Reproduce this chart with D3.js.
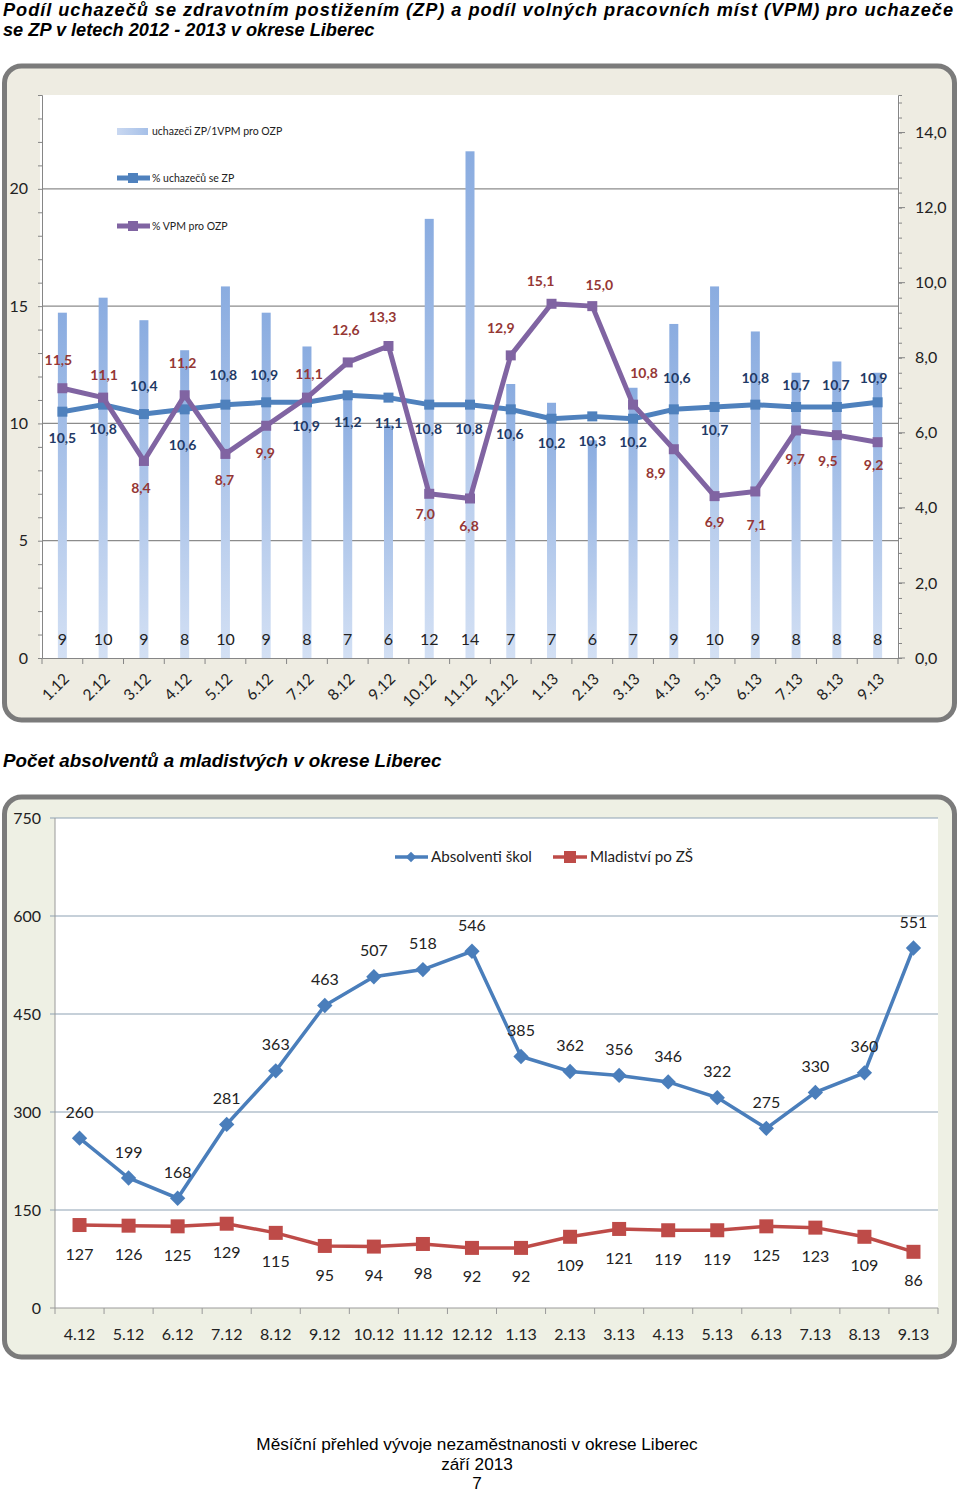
<!DOCTYPE html>
<html>
<head>
<meta charset="utf-8">
<script src="https://cdn.jsdelivr.net/npm/d3@7"></script>
<style>
  html, body { margin: 0; padding: 0; background: #ffffff; }
  svg { display: block; }
</style>
</head>
<body>
<svg id="chart" width="960" height="1493"></svg>
<script>
// ---------- DATA: chart 1 ----------
const months1 = ["1.12","2.12","3.12","4.12","5.12","6.12","7.12","8.12","9.12","10.12","11.12","12.12",
                 "1.13","2.13","3.13","4.13","5.13","6.13","7.13","8.13","9.13"];
// uchazeči ZP / 1 VPM pro OZP (bars, right axis; labels shown rounded)
const barValues = [9.2, 9.6, 9.0, 8.2, 9.9, 9.2, 8.3, 7.0, 6.2, 11.7, 13.5, 7.3,
                   6.8, 5.8, 7.2, 8.9, 9.9, 8.7, 7.6, 7.9, 7.6];
// % uchazečů se ZP (left axis)
const pctZP = [10.5, 10.8, 10.4, 10.6, 10.8, 10.9, 10.9, 11.2, 11.1, 10.8, 10.8, 10.6,
               10.2, 10.3, 10.2, 10.6, 10.7, 10.8, 10.7, 10.7, 10.9];
// % VPM pro OZP (left axis)
const pctVPM = [11.5, 11.1, 8.4, 11.2, 8.7, 9.9, 11.1, 12.6, 13.3, 7.0, 6.8, 12.9,
                15.1, 15.0, 10.8, 8.9, 6.9, 7.1, 9.7, 9.5, 9.2];
const leftTicks1 = [0, 5, 10, 15, 20];
const rightTicks1 = [0, 2, 4, 6, 8, 10, 12, 14];
const seriesNames1 = ["uchazeči ZP/1VPM pro OZP", "% uchazečů se ZP", "% VPM pro OZP"];

// ---------- DATA: chart 2 ----------
const months2 = ["4.12","5.12","6.12","7.12","8.12","9.12","10.12","11.12","12.12",
                 "1.13","2.13","3.13","4.13","5.13","6.13","7.13","8.13","9.13"];
const absolventi = [260, 199, 168, 281, 363, 463, 507, 518, 546, 385, 362, 356, 346, 322, 275, 330, 360, 551];
const mladistvi = [127, 126, 125, 129, 115, 95, 94, 98, 92, 92, 109, 121, 119, 119, 125, 123, 109, 86];
const yTicks2 = [0, 150, 300, 450, 600, 750];
const seriesNames2 = ["Absolventi škol", "Mladiství po ZŠ"];

// ---------- texts ----------
const title1a = "Podíl uchazečů se zdravotním postižením (ZP) a podíl volných pracovních míst (VPM) pro uchazeče";
const title1b = "se ZP v letech 2012 - 2013 v okrese Liberec";
const title2 = "Počet absolventů a mladistvých v okrese Liberec";
const footer = ["Měsíční přehled vývoje nezaměstnanosti v okrese Liberec", "září 2013", "7"];

// ---------- drawing ----------
const svg = d3.select("#chart");
const FONT = "Lato, 'Open Sans', sans-serif";
const fmt1 = v => d3.format(".1f")(v).replace(".", ",");

const defs = svg.append("defs");
const g1 = defs.append("linearGradient").attr("id", "barGrad").attr("x1", 0).attr("y1", 0).attr("x2", 0).attr("y2", 1);
g1.append("stop").attr("offset", "0%").attr("stop-color", "#8AACE0");
g1.append("stop").attr("offset", "100%").attr("stop-color", "#D3E0F4");
const g2 = defs.append("linearGradient").attr("id", "legGrad").attr("x1", 0).attr("y1", 0).attr("x2", 1).attr("y2", 0);
g2.append("stop").attr("offset", "0%").attr("stop-color", "#C9D8F1");
g2.append("stop").attr("offset", "100%").attr("stop-color", "#A6C0E8");

// Titles
const TF = "'Liberation Sans', Arial, sans-serif";
svg.append("text").attr("x", 3).attr("y", 16).attr("textLength", 950).attr("lengthAdjust", "spacing")
  .attr("font-family", TF).attr("font-size", 18.2)
  .attr("font-weight", "bold").attr("font-style", "italic").attr("fill", "#000").text(title1a);
svg.append("text").attr("x", 3).attr("y", 36)
  .attr("font-family", TF).attr("font-size", 18.2)
  .attr("font-weight", "bold").attr("font-style", "italic").attr("fill", "#000").text(title1b);

// ================= CHART 1 =================
svg.append("rect").attr("x", 4.5).attr("y", 66).attr("width", 950).attr("height", 654).attr("rx", 17)
  .attr("fill", "#EEECE2").attr("stroke", "#7B7B7B").attr("stroke-width", 5);

const c1 = { left: 42, right: 898, top: 95, bottom: 658 };
svg.append("rect").attr("x", 40).attr("y", c1.top).attr("width", 860).attr("height", c1.bottom - c1.top).attr("fill", "#fff");

const x1 = d3.scaleBand().domain(months1).range([c1.left, c1.right]);
const yL = d3.scaleLinear().domain([0, 24]).range([c1.bottom, c1.top]);
const yR = d3.scaleLinear().domain([0, 15]).range([c1.bottom, c1.top]);
const cx1 = d => x1(d) + x1.bandwidth() / 2;

// gridlines
svg.append("g").selectAll("line").data(leftTicks1.filter(d => d > 0)).join("line")
  .attr("x1", c1.left).attr("x2", c1.right).attr("y1", d => yL(d)).attr("y2", d => yL(d))
  .attr("stroke", "#8C8C8C").attr("stroke-width", 1.2);

// left axis
const axL = svg.append("g").attr("transform", `translate(${c1.left},0)`)
  .call(d3.axisLeft(yL).tickValues(d3.range(0, 25, 1)).tickSize(4).tickFormat(""));
axL.selectAll("path,line").attr("stroke", "#868686");
svg.append("g").selectAll("text").data(leftTicks1).join("text")
  .attr("x", 28).attr("y", d => yL(d)).attr("dy", "0.35em").attr("text-anchor", "end")
  .attr("font-family", FONT).attr("font-size", 16).attr("fill", "#222").text(d => d);

// right axis
const axR = svg.append("g").attr("transform", `translate(${c1.right},0)`)
  .call(d3.axisRight(yR).tickValues(d3.range(0, 15.01, 0.4)).tickSize(4).tickFormat(""));
axR.selectAll("path,line").attr("stroke", "#868686");
svg.append("g").selectAll("line").data(rightTicks1).join("line")
  .attr("x1", c1.right).attr("x2", c1.right + 7).attr("y1", d => yR(d)).attr("y2", d => yR(d)).attr("stroke", "#868686");
svg.append("g").selectAll("text").data(rightTicks1).join("text")
  .attr("x", 915).attr("y", d => yR(d)).attr("dy", "0.35em")
  .attr("font-family", FONT).attr("font-size", 16).attr("fill", "#222").text(d => fmt1(d));

// bars
const bw = 9;
svg.append("g").selectAll("rect").data(barValues).join("rect")
  .attr("x", (d, i) => cx1(months1[i]) - bw / 2).attr("y", d => yR(d))
  .attr("width", bw).attr("height", d => c1.bottom - yR(d)).attr("fill", "url(#barGrad)");

// x axis
const axX1 = svg.append("g").attr("transform", `translate(0,${c1.bottom})`)
  .call(d3.axisBottom(x1).tickSize(0).tickFormat(""));
axX1.selectAll("path").attr("stroke", "#868686");
svg.append("g").selectAll("line").data(d3.range(months1.length + 1)).join("line")
  .attr("x1", i => c1.left + i * x1.step()).attr("x2", i => c1.left + i * x1.step())
  .attr("y1", c1.bottom).attr("y2", c1.bottom + 6).attr("stroke", "#868686");
svg.append("g").selectAll("text").data(months1).join("text")
  .attr("transform", d => `translate(${cx1(d) + 4},${c1.bottom + 18}) rotate(-45)`)
  .attr("text-anchor", "end").attr("dy", "0.35em")
  .attr("font-family", FONT).attr("font-size", 15.5).attr("fill", "#222").text(d => d);

// bar labels
svg.append("g").selectAll("text").data(barValues).join("text")
  .attr("x", (d, i) => cx1(months1[i])).attr("y", 645).attr("text-anchor", "middle")
  .attr("font-family", FONT).attr("font-size", 16).attr("fill", "#222").text(d => Math.round(d));

// lines
const line1 = d3.line().x((d, i) => cx1(months1[i])).y(d => yL(d));
function drawSeries1(vals, color) {
  svg.append("path").datum(vals).attr("d", line1).attr("fill", "none")
    .attr("stroke", color).attr("stroke-width", 5).attr("stroke-linejoin", "round");
  svg.append("g").selectAll("rect").data(vals).join("rect")
    .attr("x", (d, i) => cx1(months1[i]) - 5).attr("y", d => yL(d) - 5)
    .attr("width", 10).attr("height", 10).attr("fill", color);
}
const BLUE1 = "#4F81BD", PURPLE1 = "#8064A2";
drawSeries1(pctZP, BLUE1);
drawSeries1(pctVPM, PURPLE1);

// data label placement (pixel offsets from marker)
const offZP = [[0,26],[0,24],[0,-28],[-2,36],[-2,-30],[-2,-27],[-1,24],[0,27],[0,25],[-1,24],[-1,24],[-1,25],
               [0,24],[0,25],[0,23],[3,-31],[0,23],[0,-27],[0,-22],[-1,-22],[-4,-24]];
const offVPM = [[-4,-28],[1,-23],[-3,27],[-2,-32],[-1,26],[-1,27],[2,-24],[-2,-32],[-6,-29],[-4,20],[-1,28],[-10,-27],
                [-11,-23],[7,-21],[11,-32],[-18,24],[0,26],[1,34],[-1,29],[-9,26],[-4,23]];
svg.append("g").selectAll("text").data(pctZP).join("text")
  .attr("x", (d, i) => cx1(months1[i]) + offZP[i][0]).attr("y", (d, i) => yL(d) + offZP[i][1])
  .attr("dy", "0.35em").attr("text-anchor", "middle")
  .attr("font-family", FONT).attr("font-size", 14).attr("font-weight", "bold").attr("fill", "#1F3A66")
  .text(d => fmt1(d));
svg.append("g").selectAll("text").data(pctVPM).join("text")
  .attr("x", (d, i) => cx1(months1[i]) + offVPM[i][0]).attr("y", (d, i) => yL(d) + offVPM[i][1])
  .attr("dy", "0.35em").attr("text-anchor", "middle")
  .attr("font-family", FONT).attr("font-size", 14).attr("font-weight", "bold").attr("fill", "#953735")
  .text(d => fmt1(d));

// legend chart 1
const leg1 = svg.append("g").attr("font-family", FONT).attr("font-size", 10.5).attr("fill", "#222");
leg1.append("rect").attr("x", 117).attr("y", 128).attr("width", 31).attr("height", 7).attr("fill", "url(#legGrad)");
leg1.append("text").attr("x", 152).attr("y", 131).attr("dy", "0.35em").text(seriesNames1[0]);
[[BLUE1, 178, seriesNames1[1]], [PURPLE1, 226, seriesNames1[2]]].forEach(([c, y, t]) => {
  leg1.append("line").attr("x1", 117).attr("x2", 150).attr("y1", y).attr("y2", y).attr("stroke", c).attr("stroke-width", 5);
  leg1.append("rect").attr("x", 128).attr("y", y - 5).attr("width", 10).attr("height", 10).attr("fill", c);
  leg1.append("text").attr("x", 152).attr("y", y).attr("dy", "0.35em").text(t);
});

// Title 2
svg.append("text").attr("x", 3).attr("y", 767)
  .attr("font-family", TF).attr("font-size", 18.8)
  .attr("font-weight", "bold").attr("font-style", "italic").attr("fill", "#000").text(title2);

// ================= CHART 2 =================
svg.append("rect").attr("x", 4.5).attr("y", 797).attr("width", 950).attr("height", 560).attr("rx", 17)
  .attr("fill", "#EEF0E4").attr("stroke", "#7B7B7B").attr("stroke-width", 5);
const c2 = { left: 55, right: 938, top: 818, bottom: 1308 };
svg.append("rect").attr("x", c2.left).attr("y", c2.top).attr("width", c2.right - c2.left).attr("height", c2.bottom - c2.top).attr("fill", "#fff");

const x2 = d3.scaleBand().domain(months2).range([c2.left, c2.right]);
const y2 = d3.scaleLinear().domain([0, 750]).range([c2.bottom, c2.top]);
const cx2 = d => x2(d) + x2.bandwidth() / 2;

svg.append("g").selectAll("line").data(yTicks2.filter(d => d > 0)).join("line")
  .attr("x1", c2.left - 5).attr("x2", c2.right).attr("y1", d => y2(d)).attr("y2", d => y2(d))
  .attr("stroke", "#8DA1B3").attr("stroke-width", 1.2);
svg.append("line").attr("x1", c2.left).attr("x2", c2.left).attr("y1", c2.top).attr("y2", c2.bottom).attr("stroke", "#9A9A9A");
svg.append("line").attr("x1", c2.left - 5).attr("x2", c2.right).attr("y1", c2.bottom).attr("y2", c2.bottom).attr("stroke", "#9A9A9A");
svg.append("g").selectAll("line").data(d3.range(months2.length + 1)).join("line")
  .attr("x1", i => c2.left + i * x2.step()).attr("x2", i => c2.left + i * x2.step())
  .attr("y1", c2.bottom).attr("y2", c2.bottom + 6).attr("stroke", "#9A9A9A");
svg.append("g").selectAll("text").data(yTicks2).join("text")
  .attr("x", 41).attr("y", d => y2(d)).attr("dy", "0.35em").attr("text-anchor", "end")
  .attr("font-family", FONT).attr("font-size", 16).attr("fill", "#222").text(d => d);
svg.append("g").selectAll("text").data(months2).join("text")
  .attr("x", d => cx2(d)).attr("y", 1334).attr("dy", "0.35em").attr("text-anchor", "middle")
  .attr("font-family", FONT).attr("font-size", 16).attr("fill", "#222").text(d => d);

const BLUE2 = "#4A7EBB", RED2 = "#BE4B48";
const line2 = d3.line().x((d, i) => cx2(months2[i])).y(d => y2(d));
svg.append("path").datum(mladistvi).attr("d", line2).attr("fill", "none").attr("stroke", RED2).attr("stroke-width", 3.5);
svg.append("g").selectAll("rect").data(mladistvi).join("rect")
  .attr("x", (d, i) => cx2(months2[i]) - 7).attr("y", d => y2(d) - 7).attr("width", 14).attr("height", 14).attr("fill", RED2);
svg.append("path").datum(absolventi).attr("d", line2).attr("fill", "none").attr("stroke", BLUE2).attr("stroke-width", 3.5);
const diamond = d3.symbol().type(d3.symbolDiamond2).size(150);
svg.append("g").selectAll("path").data(absolventi).join("path")
  .attr("transform", (d, i) => `translate(${cx2(months2[i])},${y2(d)})`).attr("d", diamond).attr("fill", BLUE2);

svg.append("g").selectAll("text").data(absolventi).join("text")
  .attr("x", (d, i) => cx2(months2[i])).attr("y", d => y2(d) - 26).attr("dy", "0.35em").attr("text-anchor", "middle")
  .attr("font-family", FONT).attr("font-size", 16).attr("fill", "#222").text(d => d);
svg.append("g").selectAll("text").data(mladistvi).join("text")
  .attr("x", (d, i) => cx2(months2[i])).attr("y", d => y2(d) + 29).attr("dy", "0.35em").attr("text-anchor", "middle")
  .attr("font-family", FONT).attr("font-size", 16).attr("fill", "#222").text(d => d);

// legend chart 2
const leg2 = svg.append("g").attr("font-family", FONT).attr("font-size", 15.2).attr("fill", "#222");
leg2.append("line").attr("x1", 395).attr("x2", 428).attr("y1", 857).attr("y2", 857).attr("stroke", BLUE2).attr("stroke-width", 3.5);
leg2.append("path").attr("transform", "translate(411,857)").attr("d", d3.symbol().type(d3.symbolDiamond2).size(70)).attr("fill", BLUE2);
leg2.append("text").attr("x", 431).attr("y", 857).attr("dy", "0.35em").text(seriesNames2[0]);
leg2.append("line").attr("x1", 553).attr("x2", 587).attr("y1", 857).attr("y2", 857).attr("stroke", RED2).attr("stroke-width", 3.5);
leg2.append("rect").attr("x", 564).attr("y", 851).attr("width", 12).attr("height", 12).attr("fill", RED2);
leg2.append("text").attr("x", 590).attr("y", 857).attr("dy", "0.35em").text(seriesNames2[1]);

// Footer
svg.append("g").selectAll("text").data(footer).join("text")
  .attr("x", 477).attr("y", (d, i) => 1450 + i * 19.5).attr("text-anchor", "middle")
  .attr("font-family", TF).attr("font-size", 17.2).attr("fill", "#000").text(d => d);
</script>
</body>
</html>
